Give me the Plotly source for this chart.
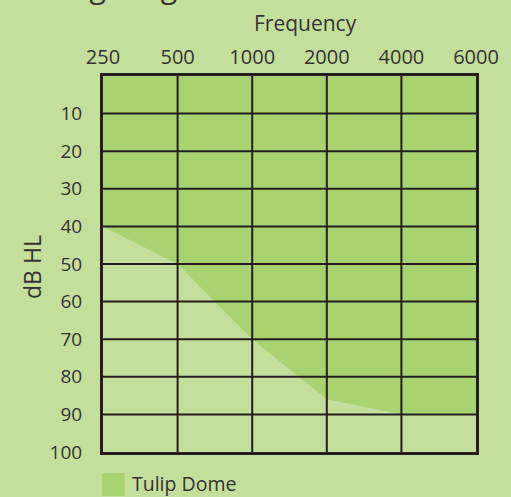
import plotly.graph_objects as go

# Data
frequencies = ["250", "500", "1000", "2000", "4000", "6000"]
fitting_limit_db = [40, 50, 70, 86, 90, 90]
db_ticks = [10, 20, 30, 40, 50, 60, 70, 80, 90, 100]
series_name = "Tulip Dome"

BG = "#c4df9b"
FILL = "#a9d271"
INK = "#231f20"
TXT = "#333333"
FONT = "Open Sans"

W, H = 511, 497
L, R, T, B = 103, 30, 76, 45
PW, PH = W - L - R, H - T - B


def px_x(px):
    return (px - L) / PW


def px_y(py):
    return (H - B - py) / PH


xpos = list(range(len(frequencies)))
poly_x = xpos + [xpos[-1], xpos[0]]
poly_y = fitting_limit_db + [0, 0]

fig = go.Figure()
fig.add_trace(go.Scatter(
    x=poly_x, y=poly_y, fill="toself", fillcolor=FILL,
    mode="lines", line=dict(width=0, color=FILL), name=series_name,
    showlegend=False, hoverinfo="skip",
))

shapes = []
for xv in xpos[1:-1]:
    shapes.append(dict(type="line", xref="x", yref="paper", x0=xv, x1=xv, y0=0, y1=1,
                       line=dict(color=INK, width=2), layer="above"))
for yv in db_ticks[:-1]:
    shapes.append(dict(type="line", xref="paper", yref="y", x0=0, x1=1, y0=yv, y1=yv,
                       line=dict(color=INK, width=2), layer="above"))
# legend swatch
shapes.append(dict(type="rect", xref="paper", yref="paper",
                   x0=px_x(102), x1=px_x(125), y0=px_y(496), y1=px_y(473),
                   fillcolor=FILL, line=dict(width=0)))

annotations = [
    dict(text="Frequency", xref="paper", yref="paper", x=px_x(308), y=px_y(23),
         xanchor="center", yanchor="middle", showarrow=False,
         font=dict(family=FONT, size=21, color=TXT)),
    dict(text="dB HL", xref="paper", yref="paper", x=px_x(31), y=px_y(267),
         xanchor="center", yanchor="middle", showarrow=False, textangle=-90,
         font=dict(family=FONT, size=23, color=TXT)),
    dict(text=series_name, xref="paper", yref="paper", x=px_x(130), y=px_y(484),
         xanchor="left", yanchor="middle", showarrow=False,
         font=dict(family=FONT, size=19.5, color=TXT)),
    dict(text="Fitting range", xref="paper", yref="paper", x=px_x(16), y=px_y(-14),
         xanchor="left", yanchor="middle", showarrow=False,
         font=dict(family=FONT, size=30, color=TXT)),
]

fig.update_layout(
    width=W, height=H,
    margin=dict(l=L, r=R, t=T, b=B, pad=0),
    paper_bgcolor=BG, plot_bgcolor=BG,
    shapes=shapes, annotations=annotations,
    showlegend=False,
    xaxis=dict(range=[0, len(frequencies) - 1], side="top", tickmode="array",
               tickvals=xpos, ticktext=frequencies, showgrid=False, zeroline=False,
               showline=True, mirror=True, linewidth=3, linecolor=INK,
               layer="above traces", ticks="", ticklabelstandoff=1,
               tickfont=dict(family=FONT, size=20, color=TXT), fixedrange=True),
    yaxis=dict(range=[100, 0], tickmode="array", tickvals=db_ticks,
               ticktext=[str(v) for v in db_ticks], showgrid=False, zeroline=False,
               showline=True, mirror=True, linewidth=3, linecolor=INK,
               layer="above traces", ticks="", ticklabelstandoff=14,
               tickfont=dict(family=FONT, size=19, color=TXT), fixedrange=True),
)

fig.write_html(
    "out.html",
    config={"displayModeBar": False},
    post_script="document.body.style.margin='0';document.body.style.overflow='hidden';",
)
